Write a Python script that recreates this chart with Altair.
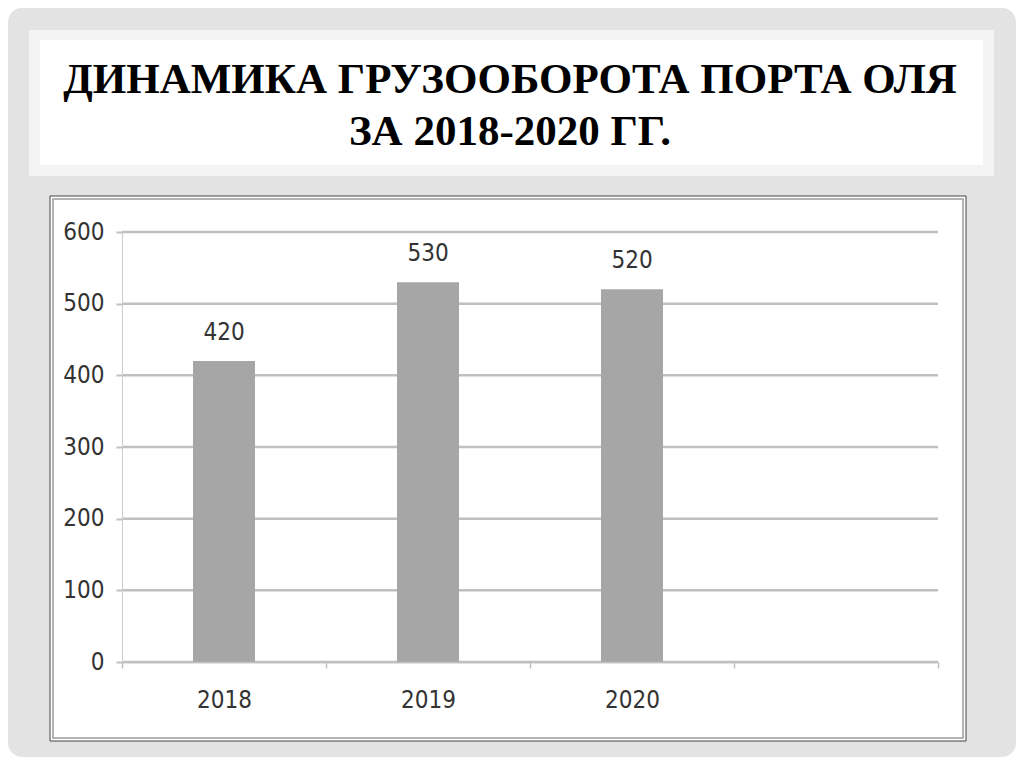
import altair as alt
import pandas as pd

# data
years = ["2018", "2019", "2020"]
tonnage = [420, 530, 520]
slots = ["2018", "2019", "2020", " "]   # the original axis has a 4th, empty slot
y_ticks = [0, 100, 200, 300, 400, 500, 600]
title_lines = ["ДИНАМИКА ГРУЗООБОРОТА ПОРТА ОЛЯ", "ЗА 2018-2020 ГГ."]

bars_df = pd.DataFrame({"year": years, "value": tonnage})
grid_df = pd.DataFrame({"tick": y_ticks})

W, H = 816, 430
FONT = "DejaVu Sans Condensed, Liberation Sans Narrow, Liberation Sans, sans-serif"
GRID = "#c0c0c0"

x_enc = alt.X("year:N", scale=alt.Scale(domain=slots, paddingInner=0, paddingOuter=0),
              axis=alt.Axis(title=None, tickBand="extent", labelAngle=0,
                            domainColor=GRID, domainWidth=1.5,
                            tickColor=GRID, tickWidth=1.5, tickSize=6,
                            labelFont=FONT, labelFontSize=24, labelColor="#333333",
                            labelPadding=20, zindex=1))
y_axis = alt.Axis(title=None, values=y_ticks, grid=False,
                  domainColor="#cccccc", domainWidth=1,
                  tickColor=GRID, tickWidth=2, tickSize=6,
                  labelFont=FONT, labelFontSize=24, labelColor="#333333",
                  labelPadding=12, zindex=1)
y_scale = alt.Scale(domain=[0, 600], nice=False)

# slide decorations (pixel offsets from the plot area's top-left corner)
slide = alt.Chart().mark_rect(color="#e3e3e3", cornerRadius=14).encode(
    x=alt.value(-114), x2=alt.value(W + 78), y=alt.value(-224), y2=alt.value(H + 95))
title_outer = alt.Chart().mark_rect(color="#f4f4f4").encode(
    x=alt.value(-93), x2=alt.value(872), y=alt.value(-202), y2=alt.value(-56))
title_inner = alt.Chart().mark_rect(color="white").encode(
    x=alt.value(-82), x2=alt.value(861), y=alt.value(-192), y2=alt.value(-67))
title_text = alt.Chart().mark_text(
    font="Liberation Serif", fontWeight="bold", fontSize=43, lineHeight=52,
    align="center", baseline="alphabetic", color="black"
).encode(x=alt.value(388), y=alt.value(-139), text=alt.value(title_lines))
box = alt.Chart().mark_rect(fill="white", stroke="#444444", strokeWidth=1).encode(
    x=alt.value(-72), x2=alt.value(W + 28), y=alt.value(-36), y2=alt.value(H + 79))
box_line = alt.Chart().mark_rect(fill=None, stroke="#9a9a9a", strokeWidth=1.5).encode(
    x=alt.value(-69), x2=alt.value(W + 25), y=alt.value(-33), y2=alt.value(H + 76))

grid = alt.Chart(grid_df).mark_rule(color=GRID, strokeWidth=2.5).encode(
    y=alt.Y("tick:Q", scale=y_scale, axis=y_axis),
    x=alt.value(0), x2=alt.value(W))

bars = alt.Chart(bars_df).mark_bar(size=62, color="#a6a6a6").encode(
    x=x_enc,
    y=alt.Y("value:Q", scale=y_scale, axis=y_axis))

labels = alt.Chart(bars_df).mark_text(
    baseline="bottom", dy=-16, font=FONT, fontSize=24, color="#333333"
).encode(
    x=x_enc,
    y=alt.Y("value:Q", scale=y_scale, axis=y_axis),
    text="value:Q")

chart = alt.layer(
    slide, title_outer, title_inner, title_text, box, box_line, grid, bars, labels
).properties(
    width=W, height=H,
    padding={"left": 114, "top": 224, "right": 78, "bottom": 95},
    autosize=alt.AutoSizeParams(type="none"),
    background="white"
).configure_view(stroke=None)

chart.save("out.html", embed_options={"renderer": "svg", "actions": False})
